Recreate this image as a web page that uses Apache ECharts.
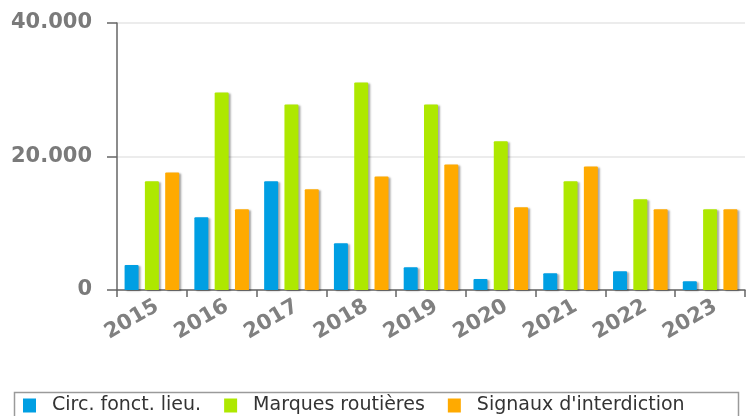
<!DOCTYPE html>
<html>
<head>
<meta charset="utf-8">
<script src="https://cdn.jsdelivr.net/npm/echarts@6/dist/echarts.min.js"></script>
<style>
html,body{margin:0;padding:0;background:#fff;}
#c{width:747px;height:416px;}
</style>
</head>
<body>
<div id="c"></div>
<script>
const categories = ['2015','2016','2017','2018','2019','2020','2021','2022','2023'];
const seriesNames = ['Circ. fonct. lieu.', 'Marques routières', "Signaux d'interdiction"];
const circFonctLieu = [3750, 10900, 16300, 7000, 3400, 1650, 2500, 2800, 1300];
const marquesRoutieres = [16300, 29600, 27800, 31100, 27800, 22300, 16300, 13600, 12100];
const signauxInterdiction = [17600, 12100, 15100, 17000, 18800, 12400, 18500, 12100, 12100];
const yTicks = [0, 20000, 40000];

const colors = ['#009fe3', '#aee800', '#ffaa00'];
const chart = echarts.init(document.getElementById('c'), null, {renderer: 'canvas'});

function fmt(v) {
  return String(v).replace(/\B(?=(\d{3})+(?!\d))/g, '.');
}

const shadow = {shadowColor: 'rgba(0,0,0,0.35)', shadowOffsetX: 2, shadowOffsetY: 1, shadowBlur: 2};

function mk(name, data, color) {
  return {
    name: name,
    type: 'bar',
    data: data,
    barWidth: 14,
    barGap: '45%',
    itemStyle: Object.assign({color: color, borderRadius: [1, 1, 0, 0]}, shadow),
    emphasis: {disabled: true}
  };
}

chart.setOption({
  animation: false,
  color: colors,
  grid: {left: 117, right: 2, top: 23, bottom: 126, containLabel: false},
  xAxis: {
    type: 'category',
    data: categories,
    boundaryGap: true,
    axisLine: {lineStyle: {color: '#666', width: 1.5}},
    axisTick: {show: true, length: 7, lineStyle: {color: '#666', width: 1.5}},
    axisLabel: {
      rotate: 30,
      margin: 18,
      padding: [0, -6, 0, 0],
      fontFamily: 'DejaVu Sans',
      fontWeight: 'bold',
      fontSize: 21,
      color: '#808080'
    }
  },
  yAxis: {
    type: 'value',
    min: yTicks[0],
    max: yTicks[yTicks.length - 1],
    interval: yTicks[1] - yTicks[0],
    axisLine: {show: true, lineStyle: {color: '#666', width: 1.5}},
    axisTick: {show: true, length: 10, lineStyle: {color: '#666', width: 1.5}},
    splitLine: {show: true, lineStyle: {color: '#e6e6e6', width: 1.5}},
    axisLabel: {
      margin: 25,
      fontFamily: 'DejaVu Sans',
      fontWeight: 'bold',
      fontSize: 21,
      color: '#7a7a7a',
      formatter: fmt
    }
  },
  legend: {
    data: seriesNames,
    left: 23,
    top: 396,
    icon: 'rect',
    itemWidth: 13,
    itemHeight: 14,
    itemGap: 23,
    padding: 0,
    textStyle: {fontFamily: 'DejaVu Sans', fontSize: 19, color: '#333', padding: [0, 0, 0, 11]}
  },
  graphic: [{
    type: 'rect',
    left: 12,
    top: 390,
    shape: {width: 724, height: 40},
    style: {fill: 'none', stroke: '#9a9a9a', lineWidth: 1.5},
    silent: true
  }],
  series: [
    mk(seriesNames[0], circFonctLieu, colors[0]),
    mk(seriesNames[1], marquesRoutieres, colors[1]),
    mk(seriesNames[2], signauxInterdiction, colors[2])
  ]
});
</script>
</body>
</html>
